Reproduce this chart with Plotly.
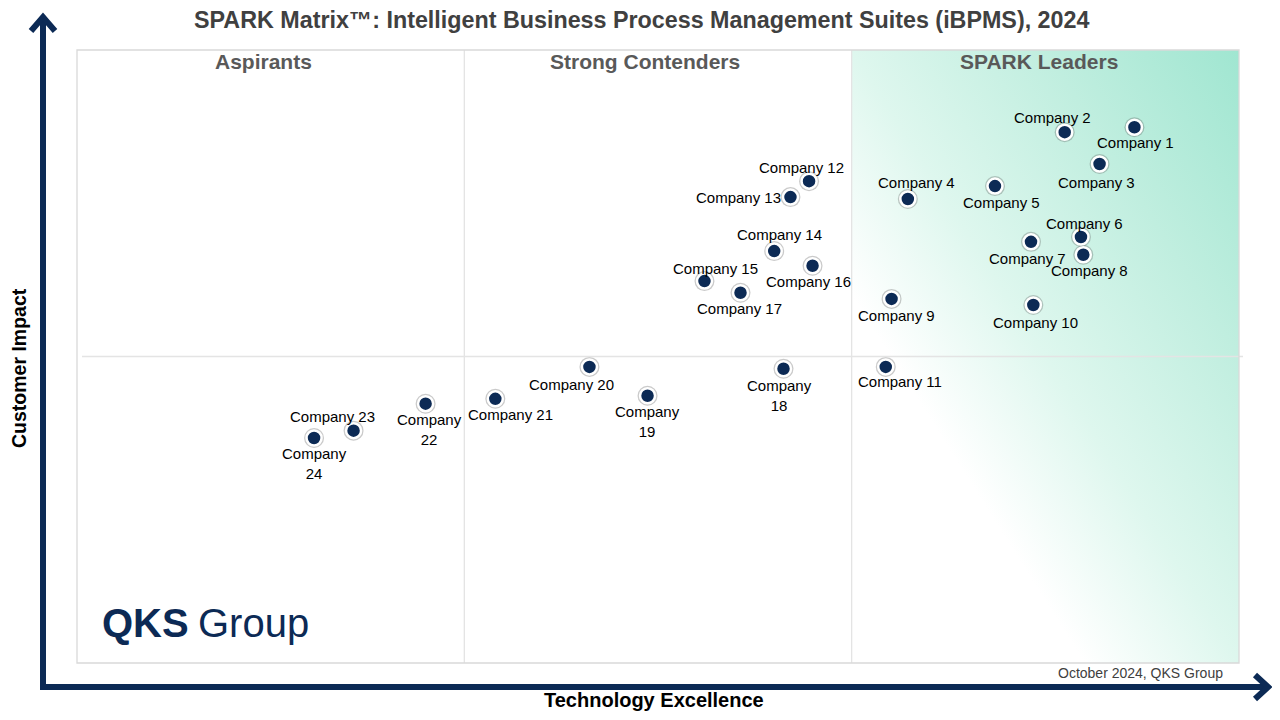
import base64
import plotly.graph_objects as go

# --- data (0-100 on both axes) ---
companies = ["Company 1", "Company 2", "Company 3", "Company 4", "Company 5", "Company 6",
             "Company 7", "Company 8", "Company 9", "Company 10", "Company 11", "Company 12",
             "Company 13", "Company 14", "Company 15", "Company 16", "Company 17", "Company<br>18",
             "Company<br>19", "Company 20", "Company 21", "Company<br>22", "Company 23", "Company<br>24"]
tech_excellence = [91.0, 85.0, 88.0, 71.5, 79.0, 86.4, 82.1, 86.6, 70.1, 82.3, 69.6, 63.0,
                   61.4, 60.0, 54.0, 63.3, 57.1, 60.8, 49.1, 44.1, 36.0, 30.0, 23.8, 20.4]
customer_impact = [87.4, 86.6, 81.4, 75.7, 77.8, 69.5, 68.7, 66.6, 59.4, 58.4, 48.3, 78.6,
                   76.0, 67.2, 62.3, 64.8, 60.4, 48.0, 43.6, 48.3, 43.1, 42.3, 37.9, 36.7]

quadrants = ["Aspirants", "Strong Contenders", "SPARK Leaders"]

# label offsets from each dot, in pixels (layout only)
label_dx = [1, -12, -3, 9, 7, 4, -4, 6, 5, 2, 14, -8, -52, 5, 11, -4, -1, -4, 0, -18, 15, 4, -21, 0]
label_dy = [-15, 15, -18, 16, -16, 13, -17, -16, -17, -17, -15, 14, 0, 17, 13, -16, -16, -27, -26, -18, -16, -26, 14, -25]

NAVY = "#0c2a55"
FONT = "Arial, Liberation Sans, sans-serif"

# page adds an 8px body margin, so the figure is drawn 8px smaller/shifted
OFF = 8
W, H = 1280 - 2 * OFF, 720 - 2 * OFF
L, R, T, B = 77, 1239, 50, 663   # plot box in screen pixels


def px(x):
    return (x - L) / (R - L)


def py(y):
    return (B - y) / (B - T)


def note(x, y, text, size, color, xanchor="center", **kw):
    return dict(x=px(x), y=py(y), xref="paper", yref="paper", text=text, showarrow=False,
                xanchor=xanchor, yanchor="middle", font=dict(family=FONT, size=size, color=color), **kw)


fig = go.Figure()

# soft halo under the dots
fig.add_trace(go.Scatter(
    x=tech_excellence, y=customer_impact, mode="markers",
    marker=dict(size=20, color="rgba(80,80,80,0.30)", line=dict(width=0)),
    hoverinfo="skip", showlegend=False))
fig.add_trace(go.Scatter(
    x=tech_excellence, y=customer_impact, mode="markers",
    marker=dict(size=15, color=NAVY, line=dict(color="white", width=2.5)),
    text=companies, hoverinfo="text", showlegend=False))

ann = []
for name, x, y, dx, dy in zip(companies, tech_excellence, customer_impact, label_dx, label_dy):
    ann.append(dict(x=x, y=y, xref="x", yref="y", text=name, showarrow=False,
                    xanchor="center", yanchor="middle", xshift=dx, yshift=dy,
                    font=dict(family=FONT, size=15, color="#000")))

# quadrant headings
for name, xc in zip(quadrants, [263, 645, 1039]):
    ann.append(note(xc, 62, "<b>%s</b>" % name, 21, "#595959"))

ann += [
    note(641, 20, "<b>SPARK Matrix™: Intelligent Business Process Management Suites (iBPMS), 2024</b>",
         23.3, "#404040"),
    note(19, 368, "<b>Customer Impact</b>", 19.5, "#000", textangle=-90),
    note(654, 700, "<b>Technology Excellence</b>", 20, "#000"),
    note(1225, 673, "October 2024, QKS Group", 14, "#404040", xanchor="right"),
    note(100, 623, "<b>QKS</b>", 40, NAVY, xanchor="left"),
    note(196, 623, "Group", 40, NAVY, xanchor="left"),
]

grid = dict(color="#e4e4e4", width=1.3)
shapes = [
    dict(type="line", xref="paper", yref="paper", x0=1 / 3, x1=1 / 3, y0=0, y1=1, line=grid),
    dict(type="line", xref="paper", yref="paper", x0=2 / 3, x1=2 / 3, y0=0, y1=1, line=grid),
    dict(type="line", xref="paper", yref="paper", x0=px(82), x1=px(1243), y0=0.5, y1=0.5, line=grid),
    dict(type="rect", xref="paper", yref="paper", x0=0, x1=1, y0=0, y1=1,
         line=dict(color="#d9d9d9", width=1.3)),
    # axis arrows
    dict(type="line", xref="paper", yref="paper", x0=px(43), x1=px(43), y0=py(690), y1=py(16),
         line=dict(color=NAVY, width=6)),
    dict(type="line", xref="paper", yref="paper", x0=px(40), x1=px(1267), y0=py(687), y1=py(687),
         line=dict(color=NAVY, width=6)),
    dict(type="path", xref="paper", yref="paper",
         path="M %f,%f L %f,%f L %f,%f" % (px(31), py(31), px(43), py(17), px(55), py(31)),
         line=dict(color=NAVY, width=6)),
    dict(type="path", xref="paper", yref="paper",
         path="M %f,%f L %f,%f L %f,%f" % (px(1255), py(675), px(1268), py(687), px(1255), py(699)),
         line=dict(color=NAVY, width=6)),
]

# diagonal mint wash behind the leaders column
svg = ("<svg xmlns='http://www.w3.org/2000/svg' width='390' height='613' viewBox='0 0 390 613' "
       "preserveAspectRatio='none'><defs><linearGradient id='g' x1='0' y1='1' x2='1' y2='0'>"
       "<stop offset='0' stop-color='#ffffff'/><stop offset='0.3' stop-color='#ffffff'/>"
       "<stop offset='0.5' stop-color='#def7ee'/><stop offset='0.75' stop-color='#c0eedf'/>"
       "<stop offset='1' stop-color='#a0e6d1'/></linearGradient></defs>"
       "<rect width='390' height='613' fill='url(#g)'/></svg>")
src = "data:image/svg+xml;base64," + base64.b64encode(svg.encode()).decode()

fig.update_layout(
    width=W, height=H,
    margin=dict(l=L - OFF, r=1280 - OFF - R, t=T - OFF, b=720 - OFF - B),
    paper_bgcolor="white", plot_bgcolor="white",
    xaxis=dict(range=[0, 100], showgrid=False, zeroline=False, showticklabels=False,
               ticks="", showline=False, fixedrange=True),
    yaxis=dict(range=[0, 100], showgrid=False, zeroline=False, showticklabels=False,
               ticks="", showline=False, fixedrange=True),
    images=[dict(source=src, xref="x", yref="y", x=200 / 3, y=100, sizex=100 / 3, sizey=100,
                 sizing="stretch", layer="below", xanchor="left", yanchor="top")],
    shapes=shapes, annotations=ann,
)

fig.write_html("out.html")
